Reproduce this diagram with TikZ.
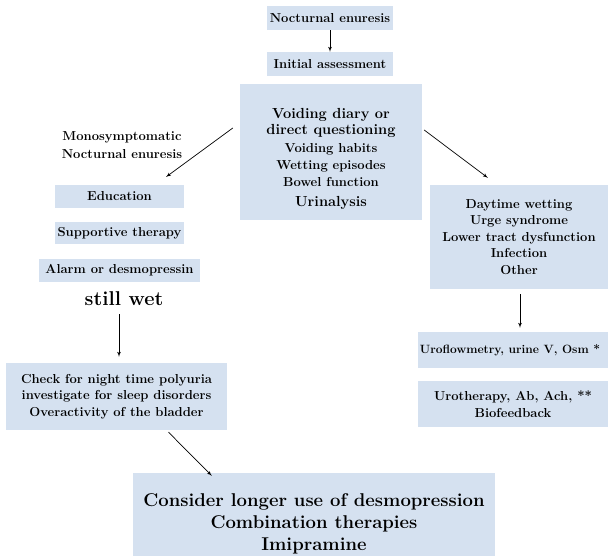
\documentclass[tikz,border=0pt]{standalone}
\usetikzlibrary{calc,arrows}
\definecolor{BoxBlue}{RGB}{213,225,240}
\tikzset{%
	% Style of the shaded boxes
	Box/.style={fill=BoxBlue,inner sep=0,align=center,font=\fontsize{13}{16.5}\selectfont\bfseries},
	% Style of the free labels
	Label/.style={align=center,inner sep=0,font=\fontsize{13}{18}\selectfont\bfseries},
	% Style of the arrows
	Connection/.style={line width=0.7pt,->,>=latex'},
}

\begin{document}
\begin{tikzpicture}[x=1pt,y=-1pt]
\useasboundingbox (0,0) rectangle (608,556);

%~~~~~~~~~~~~~~~~~~~~~~~~~~~~~~~~~~~~~~~~~~~~~~~~~~
% Set Nodes
%~~~~~~~~~~~~~~~~~~~~~~~~~~~~~~~~~~~~~~~~~~~~~~~~~~
\node[Box,minimum width=126pt,minimum height=24pt] (Noct) at (330,18) {Nocturnal enuresis};

\node[Box,minimum width=126pt,minimum height=24pt] (Init) at (330,64) {Initial assessment};

\node[Box,minimum width=182pt,minimum height=136pt,font=\fontsize{13}{17}\selectfont\bfseries] (Diary) at (331,152) {%
{\fontsize{14.6}{17}\selectfont\rule{0pt}{24pt}Voiding diary or}\\[-1pt]
{\fontsize{14.6}{17}\selectfont direct questioning}\\[1pt]
Voiding habits\\
Wetting episodes\\
Bowel function\\[3pt]
{\fontsize{14.6}{17}\selectfont Urinalysis}};

\node[Label] (Mono) at (122,145) {Monosymptomatic\\Nocturnal enuresis};

\node[Box,minimum width=129pt,minimum height=23pt] (Edu) at (119.5,196.5) {Education};

\node[Box,minimum width=129pt,minimum height=22pt] (Supp) at (119.5,233.5) {Supportive therapy};

\node[Box,minimum width=161pt,minimum height=23pt] (Alarm) at (119.5,270.5) {Alarm or desmopressin};

\node[Label,font=\fontsize{20}{22}\selectfont\bfseries] (Wet) at (124,299) {still wet};

\node[Box,minimum width=221pt,minimum height=67pt] (Check) at (116.5,396.5) {%
Check for night time polyuria\\
investigate for sleep disorders\\
Overactivity of the bladder};

\node[Box,minimum width=178pt,minimum height=104pt] (Day) at (519,237) {%
Daytime wetting\\
Urge syndrome\\
Lower tract dysfunction\\
Infection\\
Other};

\node[Box,minimum width=190pt,minimum height=36pt,font=\fontsize{12}{16.5}\selectfont\bfseries] (Uro) at (513,350) {Uroflowmetry, urine V, Osm *\hspace*{6pt}};

\node[Box,minimum width=190pt,minimum height=46pt] (Ther) at (513,404) {Urotherapy, Ab, Ach, **\\Biofeedback};

\node[Box,minimum width=362pt,minimum height=102pt,font=\fontsize{18.5}{22}\selectfont\bfseries] (Final) at (314,524) {%
Consider longer use of desmopression\\
Combination therapies\\
Imipramine};

\coordinate (MonoEnd) at (166,177);

%~~~~~~~~~~~~~~~~~~~~~~~~~~~~~~~~~~~~~~~~~~~~~~~~~~
% Set Branches
%~~~~~~~~~~~~~~~~~~~~~~~~~~~~~~~~~~~~~~~~~~~~~~~~~~
%Branch from Noct to Init
\draw[Connection] (Noct) -- (Init);

%Branch from Diary to the left column
\draw[Connection] ($(Diary.west)+(-7,-24)$) -- (MonoEnd);

%Branch from Diary to Day
\draw[Connection] ($(Diary.east)+(2,-22)$) -- ($(Day.north west)+(58,-7)$);

%Branch from Wet to Check
\draw[Connection] ($(Wet.south)+(-5,8)$) -- ($(Wet.south |- Check.north)+(-5,-6)$);

%Branch from Day to Uro
\draw[Connection] ($(Day.south)+(1,5)$) -- ($(Day.south |- Uro.north)+(1,-4)$);

%Branch from Check to Final
\draw[Connection] ($(Check.south)+(52,2)$) -- ($(Final.north west)+(79,3)$);

\end{tikzpicture}
\end{document}
